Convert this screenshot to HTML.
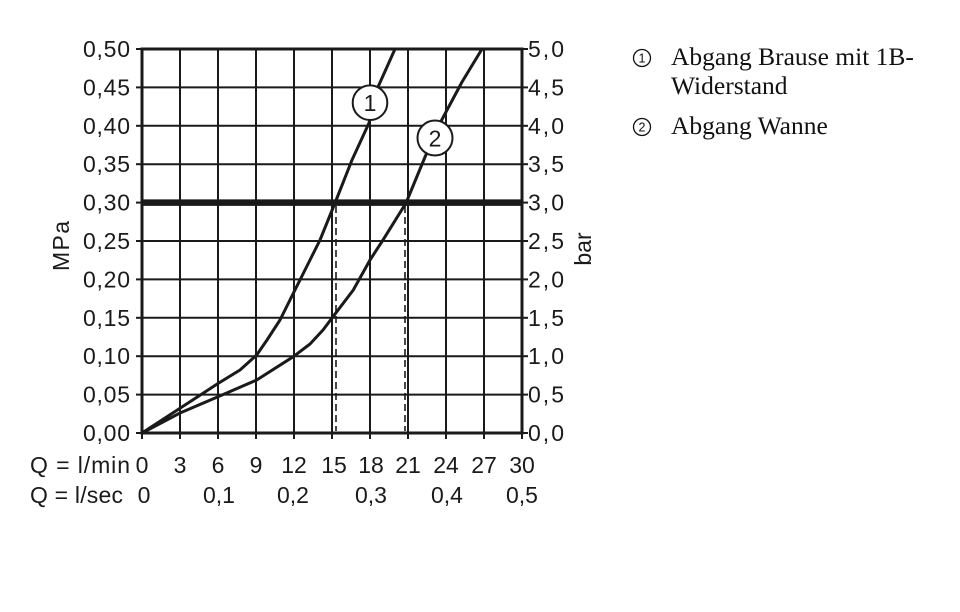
<!DOCTYPE html>
<html><head><meta charset="utf-8"><style>
html,body{margin:0;padding:0;background:#fff;}
svg{display:block;}
.ax{font-family:"Liberation Sans",sans-serif;font-size:23px;fill:#1a1a1a;}
.lg{font-family:"Liberation Serif",serif;font-size:25.5px;fill:#111;}
</style></head><body>
<svg width="960" height="612" viewBox="0 0 960 612" xmlns="http://www.w3.org/2000/svg">
<rect width="960" height="612" fill="#fff"/>
<g stroke="#1a1a1a" stroke-width="2" fill="none">
<line x1="180" y1="49" x2="180" y2="433"/>
<line x1="218" y1="49" x2="218" y2="433"/>
<line x1="256" y1="49" x2="256" y2="433"/>
<line x1="294" y1="49" x2="294" y2="433"/>
<line x1="332" y1="49" x2="332" y2="433"/>
<line x1="370" y1="49" x2="370" y2="433"/>
<line x1="408" y1="49" x2="408" y2="433"/>
<line x1="446" y1="49" x2="446" y2="433"/>
<line x1="484" y1="49" x2="484" y2="433"/>
<line x1="142" y1="87.4" x2="522" y2="87.4"/>
<line x1="142" y1="125.8" x2="522" y2="125.8"/>
<line x1="142" y1="164.2" x2="522" y2="164.2"/>
<line x1="142" y1="241" x2="522" y2="241"/>
<line x1="142" y1="279.4" x2="522" y2="279.4"/>
<line x1="142" y1="317.8" x2="522" y2="317.8"/>
<line x1="142" y1="356.2" x2="522" y2="356.2"/>
<line x1="142" y1="394.6" x2="522" y2="394.6"/>
</g>
<g stroke="#1a1a1a" stroke-width="2" fill="none">
<line x1="136" y1="49" x2="142" y2="49"/>
<line x1="136" y1="87.4" x2="142" y2="87.4"/>
<line x1="136" y1="125.8" x2="142" y2="125.8"/>
<line x1="136" y1="164.2" x2="142" y2="164.2"/>
<line x1="136" y1="202.6" x2="142" y2="202.6"/>
<line x1="136" y1="241" x2="142" y2="241"/>
<line x1="136" y1="279.4" x2="142" y2="279.4"/>
<line x1="136" y1="317.8" x2="142" y2="317.8"/>
<line x1="136" y1="356.2" x2="142" y2="356.2"/>
<line x1="136" y1="394.6" x2="142" y2="394.6"/>
<line x1="136" y1="433" x2="142" y2="433"/>
<line x1="522" y1="49" x2="528" y2="49"/>
<line x1="522" y1="87.4" x2="528" y2="87.4"/>
<line x1="522" y1="125.8" x2="528" y2="125.8"/>
<line x1="522" y1="164.2" x2="528" y2="164.2"/>
<line x1="522" y1="202.6" x2="528" y2="202.6"/>
<line x1="522" y1="241" x2="528" y2="241"/>
<line x1="522" y1="279.4" x2="528" y2="279.4"/>
<line x1="522" y1="317.8" x2="528" y2="317.8"/>
<line x1="522" y1="356.2" x2="528" y2="356.2"/>
<line x1="522" y1="394.6" x2="528" y2="394.6"/>
<line x1="522" y1="433" x2="528" y2="433"/>
<line x1="142" y1="433" x2="142" y2="439"/>
<line x1="180" y1="433" x2="180" y2="439"/>
<line x1="218" y1="433" x2="218" y2="439"/>
<line x1="256" y1="433" x2="256" y2="439"/>
<line x1="294" y1="433" x2="294" y2="439"/>
<line x1="332" y1="433" x2="332" y2="439"/>
<line x1="370" y1="433" x2="370" y2="439"/>
<line x1="408" y1="433" x2="408" y2="439"/>
<line x1="446" y1="433" x2="446" y2="439"/>
<line x1="484" y1="433" x2="484" y2="439"/>
<line x1="522" y1="433" x2="522" y2="439"/>
</g>
<!-- dashed -->
<g stroke="#1a1a1a" stroke-width="1.6" stroke-dasharray="7 4" fill="none">
<line x1="336" y1="206" x2="336" y2="431"/>
<line x1="405" y1="206" x2="405" y2="431"/>
</g>
<!-- frame -->
<rect x="142" y="49" width="380" height="384" fill="none" stroke="#1a1a1a" stroke-width="3"/>
<!-- thick 0.30 line -->
<line x1="142" y1="202.6" x2="522" y2="202.6" stroke="#1a1a1a" stroke-width="6.5"/>
<!-- curves -->
<g stroke="#1a1a1a" stroke-width="3" fill="none" stroke-linejoin="round" stroke-linecap="round">
<polyline points="142,433 180,408.3 218,383.5 240,370 256.7,355 267,340 280,320 293.3,293.3 310,260 320,240 335,203 352,160 369,123 378,87 395,49"/>
<polyline points="142,433 180,413 218,396.7 256.7,380 293.3,356.7 310,344 323,330 333,316.7 353.3,290 370,260 383,240 406,203 425,157 441.7,120 462,82 482,49"/>
</g>
<!-- circle labels -->
<circle cx="370" cy="102.7" r="17.3" fill="#fff" stroke="#1a1a1a" stroke-width="2"/>
<text x="370" y="111" class="ax" text-anchor="middle">1</text>
<circle cx="435" cy="138" r="17.5" fill="#fff" stroke="#1a1a1a" stroke-width="2"/>
<text x="435" y="146.3" class="ax" text-anchor="middle">2</text>
<!-- left labels -->
<g class="ax" text-anchor="end">
<text x="130" y="57" textLength="47" lengthAdjust="spacing">0,50</text>
<text x="130" y="95.4" textLength="47" lengthAdjust="spacing">0,45</text>
<text x="130" y="133.8" textLength="47" lengthAdjust="spacing">0,40</text>
<text x="130" y="172.2" textLength="47" lengthAdjust="spacing">0,35</text>
<text x="130" y="210.6" textLength="47" lengthAdjust="spacing">0,30</text>
<text x="130" y="249" textLength="47" lengthAdjust="spacing">0,25</text>
<text x="130" y="287.4" textLength="47" lengthAdjust="spacing">0,20</text>
<text x="130" y="325.8" textLength="47" lengthAdjust="spacing">0,15</text>
<text x="130" y="364.2" textLength="47" lengthAdjust="spacing">0,10</text>
<text x="130" y="402.6" textLength="47" lengthAdjust="spacing">0,05</text>
<text x="130" y="441" textLength="47" lengthAdjust="spacing">0,00</text>
</g>
<!-- right labels -->
<g class="ax">
<text x="528" y="57" textLength="36" lengthAdjust="spacing">5,0</text>
<text x="528" y="95.4" textLength="36" lengthAdjust="spacing">4,5</text>
<text x="528" y="133.8" textLength="36" lengthAdjust="spacing">4,0</text>
<text x="528" y="172.2" textLength="36" lengthAdjust="spacing">3,5</text>
<text x="528" y="210.6" textLength="36" lengthAdjust="spacing">3,0</text>
<text x="528" y="249" textLength="36" lengthAdjust="spacing">2,5</text>
<text x="528" y="287.4" textLength="36" lengthAdjust="spacing">2,0</text>
<text x="528" y="325.8" textLength="36" lengthAdjust="spacing">1,5</text>
<text x="528" y="364.2" textLength="36" lengthAdjust="spacing">1,0</text>
<text x="528" y="402.6" textLength="36" lengthAdjust="spacing">0,5</text>
<text x="528" y="441" textLength="36" lengthAdjust="spacing">0,0</text>
</g>
<!-- axis titles -->
<text class="ax" transform="translate(69,246) rotate(-90)" text-anchor="middle" textLength="50" lengthAdjust="spacing">MPa</text>
<text class="ax" transform="translate(591,249) rotate(-90)" text-anchor="middle">bar</text>
<!-- bottom labels -->
<g class="ax">
<text x="30" y="473" textLength="100" lengthAdjust="spacing">Q = l/min</text>
<text x="30" y="503" textLength="93" lengthAdjust="spacing">Q = l/sec</text>
</g>
<g class="ax" text-anchor="middle">
<text x="142" y="473">0</text>
<text x="180" y="473">3</text>
<text x="218" y="473">6</text>
<text x="256" y="473">9</text>
<text x="294" y="473">12</text>
<text x="334" y="473">15</text>
<text x="371" y="473">18</text>
<text x="408" y="473">21</text>
<text x="446" y="473">24</text>
<text x="484" y="473">27</text>
<text x="522" y="473">30</text>
<text x="144" y="503">0</text>
<text x="219" y="503">0,1</text>
<text x="293" y="503">0,2</text>
<text x="371" y="503">0,3</text>
<text x="447" y="503">0,4</text>
<text x="522" y="503">0,5</text>
</g>
<!-- legend -->
<circle cx="642" cy="58" r="8.5" fill="none" stroke="#111" stroke-width="1.3"/>
<text x="642" y="62.5" text-anchor="middle" style="font-family:'Liberation Sans',sans-serif;font-size:12.5px;fill:#111">1</text>
<circle cx="642" cy="127" r="8.5" fill="none" stroke="#111" stroke-width="1.3"/>
<text x="642" y="131.5" text-anchor="middle" style="font-family:'Liberation Sans',sans-serif;font-size:12.5px;fill:#111">2</text>
<text class="lg" x="671" y="65">Abgang Brause mit 1B-</text>
<text class="lg" x="671" y="94">Widerstand</text>
<text class="lg" x="671" y="134">Abgang Wanne</text>
</svg>
</body></html>
